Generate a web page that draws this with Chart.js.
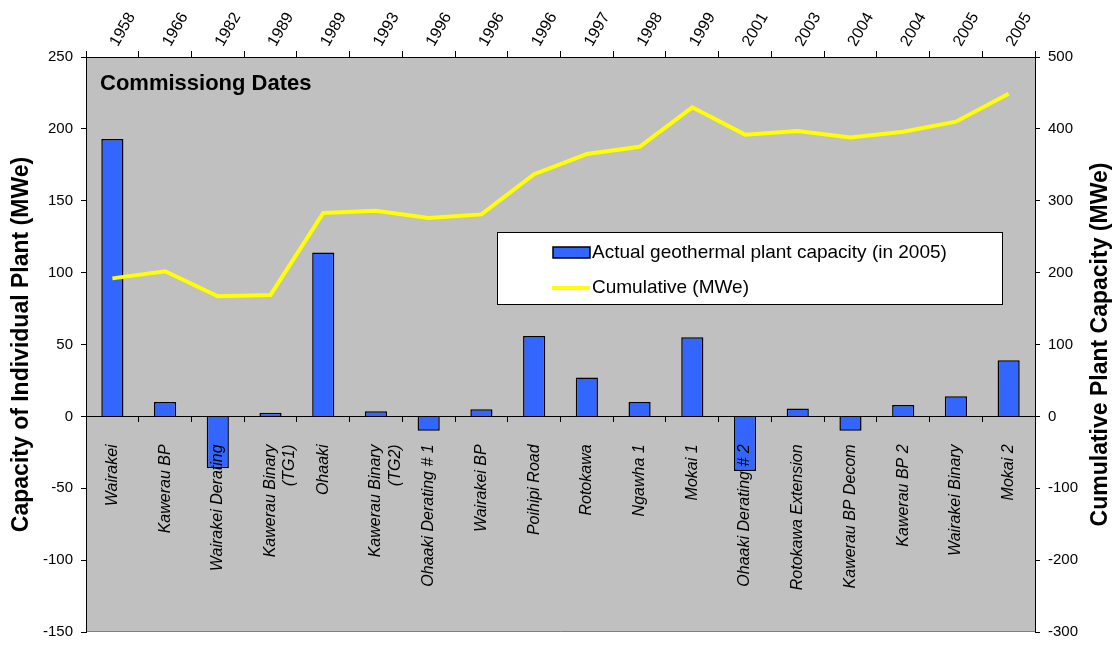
<!DOCTYPE html>
<html>
<head>
<meta charset="utf-8">
<script src="https://cdn.jsdelivr.net/npm/chart.js@4.4.0/dist/chart.umd.min.js"></script>
<style>
  html, body { margin: 0; padding: 0; background: #fff; }
</style>
</head>
<body>
<canvas id="plantChart" width="1113" height="649"></canvas>
<script>
const plants = [
  "Wairakei", "Kawerau BP", "Wairakei Derating", ["Kawerau Binary", "(TG1)"],
  "Ohaaki", ["Kawerau Binary", "(TG2)"], "Ohaaki Derating # 1", "Wairakei BP",
  "Poihipi Road", "Rotokawa", "Ngawha 1", "Mokai 1", "Ohaaki Derating # 2",
  "Rotokawa Extension", "Kawerau BP Decom", "Kawerau BP 2", "Wairakei Binary", "Mokai 2"
];
const years = [
  "1958", "1966", "1982", "1989", "1989", "1993", "1996", "1996", "1996",
  "1997", "1998", "1999", "2001", "2003", "2004", "2004", "2005", "2005"
];
const capacity = [193, 10, -36, 2.5, 114, 3.5, -10, 5, 56, 27, 10, 55, -38, 5.5, -10, 8, 14, 39];
const cumulative = [192, 202, 167, 169, 283, 286, 276, 281, 337, 365, 375, 430, 392, 397, 388, 396, 410, 449];

const FONT = "'Liberation Sans', Arial, sans-serif";

// grey plot area + thin bottom edge
const plotBackground = {
  id: "plotBackground",
  beforeDraw(chart) {
    const { ctx, chartArea: a } = chart;
    ctx.save();
    ctx.fillStyle = "#C0C0C0";
    ctx.fillRect(a.left, a.top, a.right - a.left, a.bottom - a.top);
    ctx.strokeStyle = "#808080";
    ctx.lineWidth = 1;
    ctx.beginPath();
    ctx.moveTo(a.left, a.bottom - 0.5);
    ctx.lineTo(a.right, a.bottom - 0.5);
    ctx.stroke();
    ctx.restore();
  }
};

// year labels on top axis, inner title, legend box and right axis title
const overlay = {
  id: "overlay",
  afterDraw(chart) {
    const { ctx, chartArea: a } = chart;
    const ds = chart.data.datasets;
    const top = chart.scales.x2;
    ctx.save();

    ctx.fillStyle = "#000";
    ctx.font = "16px " + FONT;
    ctx.textAlign = "left";
    ctx.textBaseline = "middle";
    top.getLabels().forEach((yr, i) => {
      ctx.save();
      ctx.translate(top.getPixelForTick(i) + 1.5, 45);
      ctx.rotate(-Math.PI / 3);
      ctx.fillText(yr, 0, 0);
      ctx.restore();
    });

    ctx.font = "bold 22px " + FONT;
    ctx.fillText("Commissiong Dates", a.left + 14, a.top + 27);

    // legend
    const lx = 497, ly = 232, lw = 505, lh = 72;
    ctx.fillStyle = "#fff";
    ctx.fillRect(lx, ly, lw, lh);
    ctx.strokeStyle = "#000";
    ctx.lineWidth = 1;
    ctx.strokeRect(lx + 0.5, ly + 0.5, lw, lh);

    ctx.fillStyle = ds[0].backgroundColor;
    ctx.fillRect(lx + 56, ly + 15, 37, 11);
    ctx.lineWidth = 1.5;
    ctx.strokeRect(lx + 56, ly + 15, 37, 11);

    ctx.strokeStyle = ds[1].borderColor;
    ctx.lineWidth = 4;
    ctx.beginPath();
    ctx.moveTo(lx + 55, ly + 56);
    ctx.lineTo(lx + 93, ly + 56);
    ctx.stroke();

    ctx.fillStyle = "#000";
    ctx.font = "19px " + FONT;
    ctx.fillText(ds[0].label, lx + 95, ly + 21);
    ctx.fillText(ds[1].label, lx + 95, ly + 56);

    // right axis title, reading bottom to top
    ctx.font = "bold 23px " + FONT;
    ctx.textAlign = "center";
    ctx.translate(1101, (a.top + a.bottom) / 2);
    ctx.rotate(-Math.PI / 2);
    ctx.fillText("Cumulative Plant Capacity (MWe)", 0, 0);
    ctx.restore();
  }
};

new Chart(document.getElementById("plantChart"), {
  type: "bar",
  data: {
    labels: plants,
    datasets: [
      {
        label: "Actual geothermal plant capacity (in 2005)",
        data: capacity,
        yAxisID: "y",
        backgroundColor: "#3366FF",
        borderColor: "#000",
        borderWidth: 1.5,
        barPercentage: 0.42,
        categoryPercentage: 1,
        order: 1,
      },
      {
        type: "line",
        label: "Cumulative (MWe)",
        data: cumulative,
        yAxisID: "y2",
        borderColor: "#FFFF00",
        borderWidth: 4,
        pointRadius: 0,
        tension: 0,
        order: 0,
      },
    ],
  },
  options: {
    responsive: false,
    animation: false,
    layout: { padding: { top: 0, right: 0, bottom: 4, left: 0 } },
    plugins: {
      legend: { display: false },
      tooltip: { enabled: false },
    },
    scales: {
      x: {
        type: "category",
        position: { y: 0 },
        offset: true,
        grid: { offset: true, drawOnChartArea: false, tickLength: 5, color: "#000", z: 1 },
        border: { display: true, color: "#000", z: 1 },
        ticks: {
          z: 1,
          autoSkip: false,
          minRotation: 90,
          maxRotation: 90,
          padding: 23,
          color: "#000",
          font: { family: FONT, size: 16, style: "italic" },
        },
      },
      x2: {
        type: "category",
        labels: years,
        position: "top",
        offset: true,
        grid: { offset: true, drawOnChartArea: false, tickLength: 6, color: "#000" },
        border: { display: true, color: "#000" },
        ticks: { display: false },
        afterFit: (s) => { s.height = 57; },
      },
      y: {
        position: "left",
        min: -150,
        max: 250,
        ticks: { stepSize: 50, padding: 8, color: "#000", font: { family: FONT, size: 15 } },
        grid: { drawOnChartArea: false, tickLength: 5, color: "#000" },
        border: { display: true, color: "#000" },
        title: {
          display: true,
          text: "Capacity of Individual Plant (MWe)",
          color: "#000",
          font: { family: FONT, size: 23, weight: "bold" },
          padding: { top: 8, bottom: 0 },
        },
        afterFit: (s) => { s.width = 86; },
      },
      y2: {
        position: "right",
        min: -300,
        max: 500,
        ticks: { stepSize: 100, padding: 8, color: "#000", font: { family: FONT, size: 15 } },
        grid: { drawOnChartArea: false, tickLength: 5, color: "#000" },
        border: { display: true, color: "#000" },
        afterFit: (s) => { s.width = 78; },
      },
    },
  },
  plugins: [plotBackground, overlay],
});
</script>
</body>
</html>
